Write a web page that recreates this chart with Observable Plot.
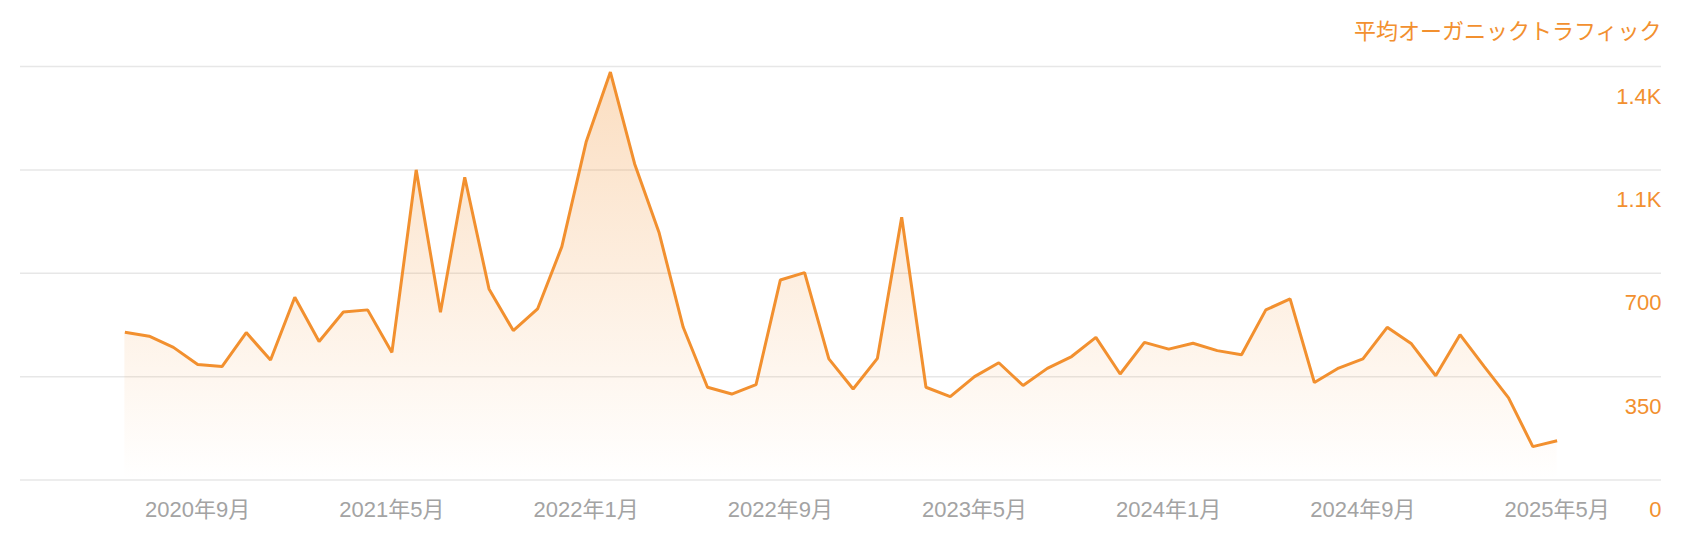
<!DOCTYPE html>
<html lang="ja">
<head>
<meta charset="utf-8">
<script src="https://cdn.jsdelivr.net/npm/d3@7"></script>
<script src="https://cdn.jsdelivr.net/npm/@observablehq/plot@0.6"></script>
<style>
  html, body { margin: 0; padding: 0; background: #ffffff; }
  #chart { width: 1684px; height: 546px; }
</style>
</head>
<body>
<div id="chart"></div>
<script>
// ---- Data ----
const months = [
  "2020-06","2020-07","2020-08","2020-09","2020-10","2020-11","2020-12",
  "2021-01","2021-02","2021-03","2021-04","2021-05","2021-06","2021-07","2021-08","2021-09","2021-10","2021-11","2021-12",
  "2022-01","2022-02","2022-03","2022-04","2022-05","2022-06","2022-07","2022-08","2022-09","2022-10","2022-11","2022-12",
  "2023-01","2023-02","2023-03","2023-04","2023-05","2023-06","2023-07","2023-08","2023-09","2023-10","2023-11","2023-12",
  "2024-01","2024-02","2024-03","2024-04","2024-05","2024-06","2024-07","2024-08","2024-09","2024-10","2024-11","2024-12",
  "2025-01","2025-02","2025-03","2025-04","2025-05"
];
const traffic = [
  500, 487, 449, 391, 384, 499, 406, 619, 469, 569,
  576, 432, 1050, 568, 1025, 647, 506, 579, 790, 1144,
  1381, 1070, 839, 517, 314, 291, 323, 677, 702, 410,
  308, 412, 890, 314, 282, 350, 397, 320, 378, 418,
  483, 359, 466, 443, 463, 438, 424, 576, 613, 330,
  379, 410, 517, 461, 353, 492, 384, 278, 113, 133
];
const xTickMonths = ["2020-09","2021-05","2022-01","2022-09","2023-05","2024-01","2024-09","2025-05"];
const xTickLabels = ["2020年9月","2021年5月","2022年1月","2022年9月","2023年5月","2024年1月","2024年9月","2025年5月"];
const yTickValues = [0, 350, 700, 1050, 1400];
const yTickLabels = ["0", "350", "700", "1.1K", "1.4K"];
const seriesTitle = "平均オーガニックトラフィック";

// ---- Tables built from the arrays ----
const rows = months.map((m, i) => ({month: m, value: traffic[i]}));
const xTicks = xTickMonths.map((m, i) => ({month: m, label: xTickLabels[i]}));
const yTicks = yTickValues.map((v, i) => ({value: v, label: yTickLabels[i]}));

const orange = "#f2902f";
const fontFamily = "'Liberation Sans', 'Noto Sans CJK JP', sans-serif";

const svg = Plot.plot({
  width: 1684,
  height: 546,
  marginTop: 66,
  marginBottom: 66.5,
  marginLeft: 20,
  marginRight: 23,
  style: {fontFamily, fontSize: "22px", background: "#ffffff"},
  x: {type: "point", domain: months, padding: 4.3, round: false, axis: null},
  y: {domain: [0, 1400], axis: null},
  marks: [
    Plot.ruleY(yTicks, {y: "value", stroke: "#e7e7e7", strokeWidth: 1.5}),
    Plot.areaY(rows, {x: "month", y: "value", fill: "url(#trafficGradient)"}),
    Plot.lineY(rows, {x: "month", y: "value", stroke: orange, strokeWidth: 3, strokeLinejoin: "miter", strokeLinecap: "butt"}),
    Plot.text(xTicks, {x: "month", text: "label", frameAnchor: "bottom", lineAnchor: "middle", dy: 30, fill: "#a3a3a3", fontSize: 22}),
    Plot.text(yTicks, {y: "value", text: "label", frameAnchor: "right", lineAnchor: "middle", textAnchor: "end", dy: 30, fill: orange, fontSize: 22}),
    Plot.text([seriesTitle], {text: d => d, frameAnchor: "top-right", lineAnchor: "middle", textAnchor: "end", dy: -35, fill: orange, fontSize: 22})
  ]
});

const defs = d3.select(svg).insert("defs", ":first-child");
const grad = defs.append("linearGradient")
  .attr("id", "trafficGradient")
  .attr("x1", 0).attr("y1", 0).attr("x2", 0).attr("y2", 1);
grad.append("stop").attr("offset", 0).attr("stop-color", orange).attr("stop-opacity", 0.3);
grad.append("stop").attr("offset", 1).attr("stop-color", orange).attr("stop-opacity", 0);

document.getElementById("chart").appendChild(svg);
</script>
</body>
</html>
